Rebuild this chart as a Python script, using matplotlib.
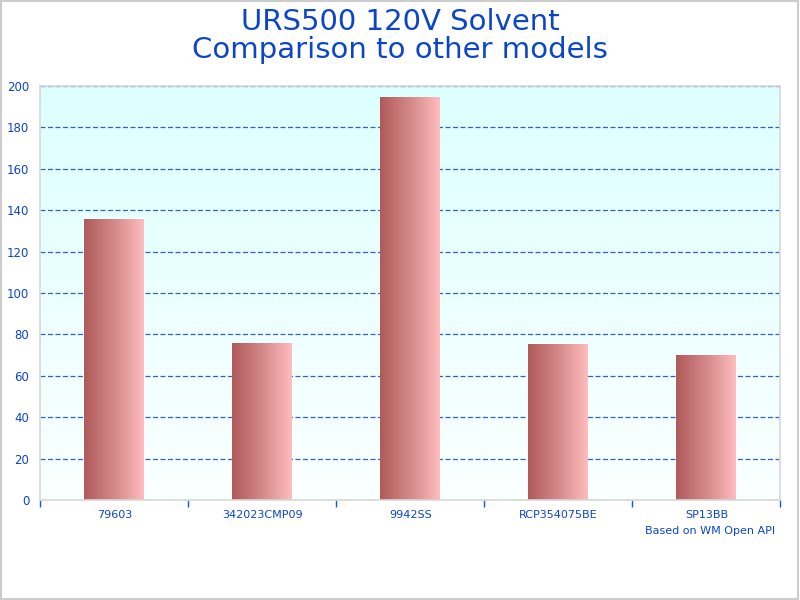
import matplotlib.pyplot as plt
import numpy as np
from matplotlib.colors import LinearSegmentedColormap

models = ["79603", "342023CMP09", "9942SS", "RCP354075BE", "SP13BB"]
values = [135.3, 75.5, 194.3, 74.9, 70.0]

blue = "#0b45c8"
bar_cmap = LinearSegmentedColormap.from_list("bar", ["#b05a5a", "#d48888", "#ffbdbd"])
bg_cmap = LinearSegmentedColormap.from_list("bg", ["#fbffff", "#ddffff"])

fig = plt.figure(figsize=(8, 6), dpi=100)
ax = fig.add_axes([0.0505, 0.1667, 0.925, 0.69])

# outer border
fig.patches.append(plt.Rectangle((0.001, 0.001), 0.997, 0.997, transform=fig.transFigure,
                                 fill=False, edgecolor="#cccccc", lw=1.5))

x = np.arange(len(models))
width = 0.405

# background gradient
grad = np.linspace(0, 1, 256).reshape(-1, 1)
ax.imshow(grad, extent=[0, 1, 0, 1], transform=ax.transAxes, cmap=bg_cmap,
          origin="lower", aspect="auto", zorder=0)

ax.set_yticks(np.arange(0, 201, 20))
ax.yaxis.grid(True, linestyle=(0, (4, 2)), color="#3060d0", lw=0.9, zorder=1)

hgrad = np.linspace(0, 1, 256).reshape(1, -1)
for xi, v in zip(x, values):
    ax.imshow(hgrad, extent=[xi - width / 2, xi + width / 2, 0, v], cmap=bar_cmap,
              aspect="auto", zorder=2)

ax.set_xlim(-0.5, len(models) - 0.5)
ax.set_ylim(0, 200)
ax.set_axisbelow(True)

ax.set_xticks(x)
ax.set_xticklabels(models, color=blue, fontsize=8)
ax.tick_params(axis="x", length=0, pad=7.5)
ax.set_xticks(np.arange(-0.5, len(models)), minor=True)
ax.tick_params(axis="x", which="minor", length=5, color="#1060d0", width=1)
ax.tick_params(axis="y", length=0, labelcolor=blue, labelsize=8.5, pad=8)

for s in ax.spines.values():
    s.set_color("#d8d8d8")
    s.set_linewidth(1.2)

fig.text(0.5, 0.94, "URS500 120V Solvent\nComparison to other models", ha="center",
         va="center", fontsize=21, color=blue, linespacing=1.03)
fig.text(0.969, 0.115, "Based on WM Open API", ha="right", va="center",
         fontsize=8, color=blue)

fig.savefig("out.png", dpi=100)
